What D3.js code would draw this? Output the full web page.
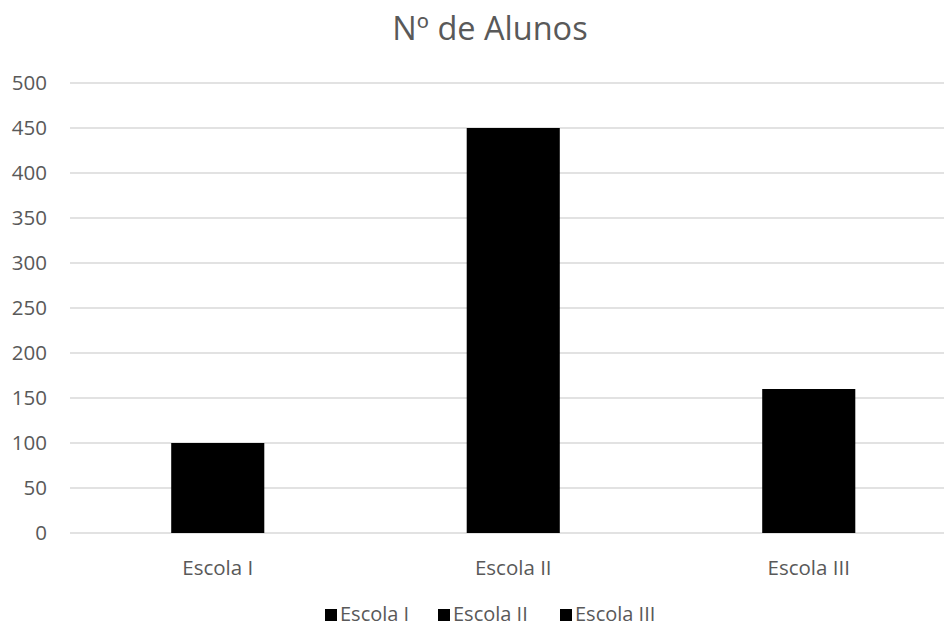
<!DOCTYPE html>
<html>
<head>
<meta charset="utf-8">
<script src="https://cdn.jsdelivr.net/npm/d3@7"></script>
<style>
  html, body { margin: 0; padding: 0; background: #fff; }
  svg { display: block; }
  text { font-family: "Open Sans", sans-serif; fill: #595959; }
</style>
</head>
<body>
<svg id="chart" width="944" height="627"></svg>
<script>
const title = "Nº de Alunos";
const categories = ["Escola I", "Escola II", "Escola III"];
const values = [100, 450, 160];
const yTicks = [0, 50, 100, 150, 200, 250, 300, 350, 400, 450, 500];
const legendLabels = ["Escola I", "Escola II", "Escola III"];

const svg = d3.select("#chart");
const plotLeft = 70, plotRight = 956.5, plotTop = 83, plotBottom = 533;

const x = d3.scaleBand().domain(categories).range([plotLeft, plotRight]).padding(0);
const y = d3.scaleLinear().domain([0, 500]).range([plotBottom, plotTop]);
const barW = x.bandwidth() * 0.315;

// title
svg.append("text")
  .attr("x", 490).attr("y", 40)
  .attr("text-anchor", "middle")
  .style("font-size", "32.5px")
  .text(title);

// gridlines
svg.append("g").selectAll("line").data(yTicks).join("line")
  .attr("x1", plotLeft).attr("x2", 944)
  .attr("y1", d => y(d)).attr("y2", d => y(d))
  .attr("stroke", "#d9d9d9").attr("stroke-width", 1.4);

// y tick labels
svg.append("g").selectAll("text").data(yTicks).join("text")
  .attr("x", 47).attr("y", d => y(d))
  .attr("dy", "0.36em")
  .attr("text-anchor", "end")
  .style("font-size", "20.5px")
  .text(d => d);

// bars
svg.append("g").selectAll("rect").data(values).join("rect")
  .attr("x", (d, i) => x(categories[i]) + x.bandwidth() / 2 - barW / 2)
  .attr("width", barW)
  .attr("y", d => y(d))
  .attr("height", d => y(0) - y(d))
  .attr("fill", "#000");

// x labels
svg.append("g").selectAll("text").data(categories).join("text")
  .attr("x", d => x(d) + x.bandwidth() / 2)
  .attr("y", 575)
  .attr("text-anchor", "middle")
  .style("font-size", "20.5px")
  .text(d => d);

// legend
const legendX = [325, 438, 560];
const lg = svg.append("g").selectAll("g").data(legendLabels).join("g")
  .attr("transform", (d, i) => `translate(${legendX[i]},0)`);
lg.append("rect").attr("x", 0).attr("y", 609).attr("width", 12).attr("height", 12).attr("fill", "#000");
lg.append("text").attr("x", 15).attr("y", 621)
  .style("font-size", "20px")
  .text(d => d);
</script>
</body>
</html>
